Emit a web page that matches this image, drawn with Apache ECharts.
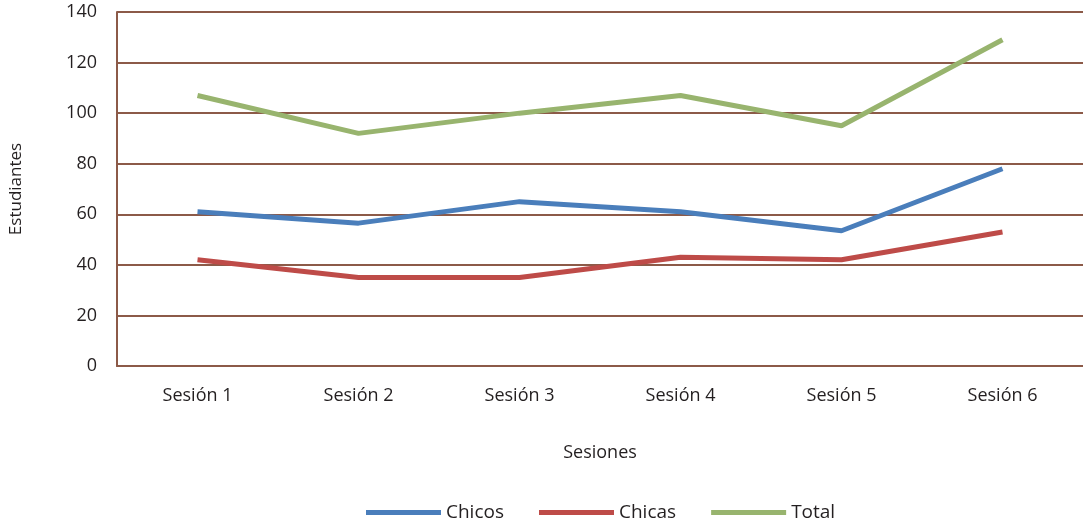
<!DOCTYPE html>
<html>
<head>
<meta charset="utf-8">
<script src="https://cdn.jsdelivr.net/npm/echarts@6/dist/echarts.min.js"></script>
<style>
  html, body { margin: 0; padding: 0; background: #fff; }
  #main { width: 1083px; height: 527px; }
</style>
</head>
<body>
<div id="main"></div>
<script>
// datos
var sesiones = ['Sesión 1', 'Sesión 2', 'Sesión 3', 'Sesión 4', 'Sesión 5', 'Sesión 6'];
var chicos = [61, 56.5, 65, 61, 53.5, 78];
var chicas = [42, 35, 35, 43, 42, 53];
var total = [107, 92, 100, 107, 95, 129];

var gridColor = '#8c5a48';
var fontFam = '"Open Sans", "Noto Sans", sans-serif';

var myChart = echarts.init(document.getElementById('main'));
var option = {
    animation: false,
    textStyle: { fontFamily: fontFam },
    color: ['#4a7ebb', '#be4b48', '#98b46e'],
    grid: {
        left: 117,
        right: -11,
        top: 12,
        bottom: 161,
        containLabel: false
    },
    legend: {
        bottom: 0,
        left: 361,
        icon: 'rect',
        itemWidth: 75,
        itemHeight: 5,
        itemGap: 35,
        textStyle: { fontSize: 19, color: '#231f20', fontFamily: fontFam },
        data: ['Chicos', 'Chicas', 'Total']
    },
    xAxis: {
        type: 'category',
        data: sesiones,
        boundaryGap: true,
        name: 'Sesiones',
        nameLocation: 'middle',
        nameGap: 78,
        nameTextStyle: { fontSize: 18, color: '#231f20' },
        axisLine: { lineStyle: { color: gridColor, width: 2 } },
        axisTick: { show: false },
        axisLabel: { fontSize: 18, color: '#231f20', margin: 21 }
    },
    yAxis: {
        type: 'value',
        min: 0,
        max: 140,
        interval: 20,
        name: 'Estudiantes',
        nameLocation: 'middle',
        nameGap: 92,
        nameRotate: 90,
        nameTextStyle: { fontSize: 17, color: '#231f20' },
        axisLine: { show: true, lineStyle: { color: gridColor, width: 2 } },
        axisTick: { show: false },
        axisLabel: { fontSize: 18, color: '#231f20', margin: 20 },
        splitLine: { lineStyle: { color: gridColor, width: 2 } }
    },
    series: [
        { name: 'Chicos', type: 'line', data: chicos, symbol: 'none', lineStyle: { width: 5 } },
        { name: 'Chicas', type: 'line', data: chicas, symbol: 'none', lineStyle: { width: 5 } },
        { name: 'Total', type: 'line', data: total, symbol: 'none', lineStyle: { width: 5 } }
    ]
};
myChart.setOption(option);
</script>
</body>
</html>
